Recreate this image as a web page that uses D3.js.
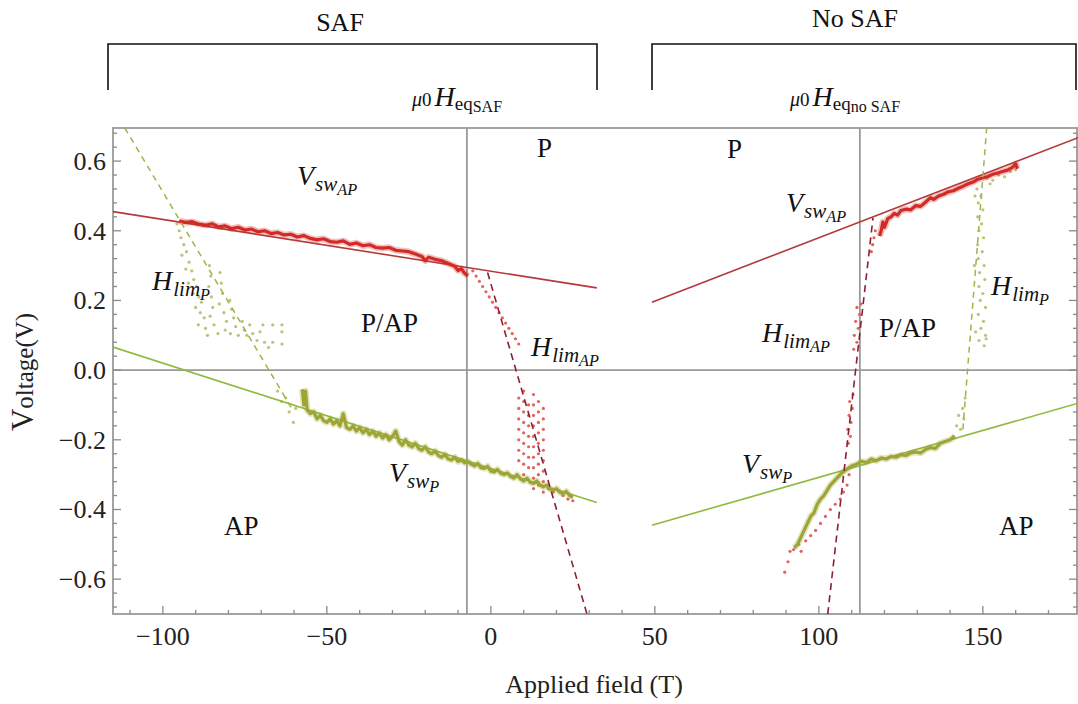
<!DOCTYPE html>
<html><head><meta charset="utf-8">
<script src="https://cdn.jsdelivr.net/npm/d3@7"></script>
<style>
html,body{margin:0;padding:0;background:#fff;}
svg{display:block;}
svg text{font-family:"Liberation Serif","DejaVu Serif",serif;}
</style></head><body>
<svg id="c" width="1078" height="704"></svg>
<script>
// ---------- tick labels ----------
const xTickValues = [-100, -50, 0, 50, 100, 150];
const xTickLabels = ["\u2212100", "\u221250", "0", "50", "100", "150"];
const yTickValues = [-0.6, -0.4, -0.2, 0.0, 0.2, 0.4, 0.6];
const yTickLabels = ["\u22120.6", "\u22120.4", "\u22120.2", "0.0", "0.2", "0.4", "0.6"];

// ---------- equilibrium field lines (T) ----------
const eqFields = [-7.3, 112.5];

// ---------- SAF panel: fits [H, V] ----------
const safRedFit = [[-115.2, 0.455], [32.3, 0.236]];
const safGreenFit = [[-115.2, 0.066], [32.3, -0.380]];
const safRedDash = [[-1.0, 0.280], [29.3, -0.700]];
const safGreenDash = [[-111.6, 0.695], [-60.7, -0.110]];

// ---------- No SAF panel: fits [H, V] ----------
const noSafRedFit = [[49.1, 0.195], [179, 0.667]];
const noSafGreenFit = [[49.1, -0.445], [179, -0.095]];
const noSafRedDash = [[102.7, -0.700], [116.5, 0.437]];
const noSafGreenDash = [[143.9, -0.170], [151.2, 0.700]];

// ---------- SAF panel: measured curves ----------
const safRedData = [
 [-95,0.428],[-93,0.424],[-91,0.426],[-89,0.419],[-87,0.416],[-85,0.420],[-83,0.411],[-81,0.414],
 [-79,0.406],[-77,0.410],[-75,0.402],[-73,0.405],[-71,0.397],[-69,0.400],[-67,0.392],[-65,0.395],
 [-63,0.388],[-61,0.390],[-59,0.382],[-57,0.386],[-55,0.378],[-53,0.374],[-51,0.377],[-49,0.369],
 [-47,0.367],[-45,0.371],[-43,0.361],[-41,0.365],[-39,0.357],[-37,0.360],[-35,0.352],[-33,0.350],
 [-31,0.352],[-29,0.344],[-27,0.342],[-25,0.340],[-23,0.333],[-21,0.326],[-20,0.314],[-19,0.324],
 [-17,0.318],[-15,0.314],[-13,0.306],[-11,0.298],[-10,0.286],[-9,0.291],[-8,0.278],[-7,0.270]
];
const safGreenData = [
 [-57.5,-0.055],[-57,-0.100],[-56.5,-0.060],[-56,-0.115],[-55,-0.125],[-54,-0.120],[-53,-0.140],
 [-52,-0.130],[-51,-0.145],[-50,-0.150],[-49,-0.140],[-48,-0.155],[-47,-0.145],[-46,-0.160],
 [-45,-0.125],[-44,-0.165],[-43,-0.170],[-42,-0.160],[-41,-0.175],[-40,-0.165],[-39,-0.180],
 [-38,-0.170],[-37,-0.185],[-36,-0.175],[-35,-0.190],[-34,-0.180],[-33,-0.195],[-32,-0.185],
 [-31,-0.200],[-30,-0.190],[-29,-0.175],[-28,-0.205],[-27,-0.215],[-26,-0.200],[-25,-0.215],
 [-24,-0.220],[-23,-0.210],[-22,-0.225],[-21,-0.230],[-20,-0.220],[-19,-0.235],[-18,-0.240],
 [-17,-0.232],[-16,-0.245],[-15,-0.250],[-14,-0.242],[-13,-0.255],[-12,-0.258],[-11,-0.250],
 [-10,-0.262],[-9,-0.258],[-8,-0.266],[-7,-0.262],[-6,-0.270],[-5,-0.275],[-4,-0.268],[-3,-0.280],
 [-2,-0.282],[-1,-0.276],[0,-0.290],[1,-0.292],[2,-0.285],[3,-0.296],[4,-0.300],[5,-0.295],
 [6,-0.305],[7,-0.310],[8,-0.300],[9,-0.312],[10,-0.318],[11,-0.310],[12,-0.322],[13,-0.325],
 [14,-0.318],[15,-0.330],[16,-0.335],[17,-0.330],[18,-0.342],[19,-0.345],[20,-0.340],[21,-0.350],
 [22,-0.355],[23,-0.348],[24,-0.360],[25,-0.365]
];
const safRedDots = [
 [-5.5,0.285],[-4.5,0.270],[-3.5,0.255],[-2.5,0.240],[-1.5,0.225],[-0.5,0.210],[0.5,0.195],
 [1.5,0.180],[2.5,0.165],[3.5,0.150],[4.5,0.135],[5.5,0.120],[6.5,0.105],[7.5,0.090],[8.5,0.075],
 [8.5,-0.08],[8.5,-0.11],[8.5,-0.14],[8.5,-0.17],[8.5,-0.20],[8.5,-0.23],[8.5,-0.26],
 [10,-0.06],[10,-0.09],[10,-0.12],[10,-0.15],[10,-0.18],[10,-0.21],[10,-0.24],[10,-0.27],[10,-0.30],
 [11.5,-0.10],[11.5,-0.13],[11.5,-0.16],[11.5,-0.19],[11.5,-0.22],[11.5,-0.25],[11.5,-0.28],
 [13,-0.07],[13,-0.10],[13,-0.13],[13,-0.16],[13,-0.19],[13,-0.22],[13,-0.25],[13,-0.28],[13,-0.31],[13,-0.34],
 [14.5,-0.09],[14.5,-0.12],[14.5,-0.15],[14.5,-0.18],[14.5,-0.21],[14.5,-0.24],[14.5,-0.27],[14.5,-0.30],[14.5,-0.33],
 [16,-0.11],[16,-0.14],[16,-0.17],[16,-0.20],[16,-0.23],[16,-0.26],[16,-0.29],[16,-0.32],[16,-0.35],
 [17.5,-0.340],[19,-0.350],[20.5,-0.345],[22,-0.360],[23.5,-0.370],[25,-0.375]
];
const safGreenDots = [
 [-95.7,0.42],[-95.0,0.40],[-94.5,0.38],[-93.6,0.36],[-94.2,0.33],[-92.8,0.34],[-92.0,0.31],
 [-93.0,0.29],[-91.2,0.285],[-90.6,0.26],[-92.2,0.25],[-89.8,0.24],[-90.8,0.22],[-89.0,0.21],
 [-88.2,0.195],[-90.0,0.18],[-88.6,0.165],[-87.4,0.15],[-89.2,0.13],[-87.0,0.12],[-85.8,0.30],
 [-85.4,0.27],[-86.0,0.24],[-85.2,0.21],[-84.8,0.18],[-85.6,0.155],[-84.4,0.13],[-83.2,0.105],
 [-86.4,0.10],[-82.6,0.28],[-82.2,0.25],[-81.8,0.22],[-82.8,0.19],[-81.4,0.165],[-80.6,0.14],
 [-81.0,0.115],[-79.6,0.20],[-79.0,0.175],[-78.4,0.15],[-77.8,0.125],[-79.4,0.105],[-77.0,0.10],
 [-75.8,0.14],[-75.2,0.115],[-74.4,0.10],[-73.5,0.13],[-72.6,0.105],[-71.3,0.085],[-70.4,0.11],
 [-69.5,0.13],[-69.0,0.08],[-66.5,0.13],[-66.5,0.08],[-63.7,0.13],[-63.7,0.11],[-63.7,0.075],
 [-67.8,0.065],[-65.0,-0.06],[-63.8,-0.09],[-62.5,-0.08],[-61.5,-0.12],[-60.2,-0.15],[-59.5,-0.11]
];

// ---------- No SAF panel: measured curves ----------
const noSafRedData = [
 [118.5,0.385],[119,0.400],[119.5,0.425],[120,0.410],[121,0.435],[122,0.440],[123,0.450],
 [124,0.445],[125,0.458],[126.5,0.462],[128,0.460],[129.5,0.472],[131,0.470],[132.5,0.482],
 [134,0.495],[135,0.490],[136.5,0.500],[138,0.505],[139.5,0.512],[141,0.515],[142.5,0.522],
 [144,0.528],[145.5,0.535],[147,0.540],[148.5,0.548],[150,0.552],[151.5,0.556],[153,0.562],
 [154.5,0.566],[156,0.570],[157.5,0.574],[159,0.582],[160,0.592],[160.5,0.578]
];
const noSafGreenData = [
 [92.5,-0.510],[93.5,-0.500],[94.5,-0.480],[95.5,-0.460],[96.5,-0.440],[97.5,-0.420],[98.5,-0.410],
 [99.5,-0.385],[100.5,-0.370],[101.5,-0.360],[102.5,-0.345],[103.5,-0.330],[104.5,-0.320],
 [105.5,-0.310],[107,-0.295],[108.5,-0.285],[110,-0.275],[111.5,-0.270],[113,-0.262],[114.5,-0.265],
 [116,-0.255],[117.5,-0.260],[119,-0.252],[120.5,-0.255],[122,-0.248],[123.5,-0.250],[125,-0.243],
 [126.5,-0.245],[128,-0.238],[129.5,-0.235],[131,-0.238],[132.5,-0.228],[134,-0.222],[135.5,-0.225],
 [137,-0.210],[138.5,-0.205],[140,-0.200],[141.5,-0.190]
];
const noSafRedDots = [
 [89.6,-0.58],[90.6,-0.55],[91.2,-0.52],[92.3,-0.515],[93.8,-0.50],[94.6,-0.52],[96.0,-0.49],
 [97.5,-0.475],[99.0,-0.46],[100.5,-0.44],[102.0,-0.42],[103.5,-0.40],[105.0,-0.385],[106.5,-0.37],
 [107.5,-0.35],[108.6,-0.33],[109.2,-0.30],[109.0,-0.21],[109.6,-0.19],[108.8,-0.17],[109.8,-0.15],
 [109.2,-0.13],[110.2,-0.11],[109.4,-0.09],[110.4,-0.07],[110.6,0.06],[111.6,0.08],[110.8,0.10],
 [112.0,0.12],[111.2,0.14],[112.4,0.16],[111.6,0.18],[112.8,0.19],[116.0,0.34],[116.4,0.36],
 [116.8,0.38],[117.2,0.40]
];
const noSafGreenDots = [
 [148.2,0.52],[149.4,0.50],[148.6,0.48],[150.0,0.46],[148.4,0.44],[149.6,0.42],[148.8,0.40],
 [150.2,0.38],[148.4,0.36],[149.8,0.34],[148.6,0.32],[150.4,0.30],[149.0,0.28],[150.6,0.26],
 [148.8,0.24],[150.0,0.22],[149.2,0.20],[150.8,0.18],[148.6,0.16],[150.2,0.14],[149.4,0.12],
 [150.8,0.10],[148.8,0.085],[150.4,0.07],[151.0,0.09],[147.8,0.11],[151.2,0.55],[153.0,0.545],
 [154.8,0.56],[156.6,0.555],[158.4,0.57],[160.0,0.575],[152.2,0.535],[147.6,0.50],[147.4,0.30],
 [141.0,-0.19],[142.0,-0.16],[143.2,-0.17],[142.6,-0.13],[144.2,-0.14],[143.8,-0.11],[144.6,-0.08]
];

// ---------- colours ----------
const C = {
  redData: "#d22a26", redFit: "#b53a3c", redDash: "#8e1f2e", redDots: "#e2625c",
  greenData: "#9ea535", greenFit: "#8fba3c", greenDash: "#9db547", greenDots: "#bcc27a",
  frame: "#9a9a9a"
};

const svg = d3.select("#c");
const x = d3.scaleLinear().domain([-115.2, 179]).range([113, 1078]);
const y = d3.scaleLinear().domain([-0.7, 0.695]).range([614, 128]);
const X0 = x.range()[0], X1 = x.range()[1], Y0 = y.range()[1], Y1 = y.range()[0];

svg.append("defs").append("clipPath").attr("id", "plotclip")
  .append("rect").attr("x", X0).attr("y", Y0).attr("width", X1 - X0).attr("height", Y1 - Y0);

const serif = "Liberation Serif, DejaVu Serif, serif";
function txt(sel) { return sel.attr("font-family", serif).style("font-family", serif); }

// ---------- top brackets ----------
const brackets = svg.append("g").attr("stroke", "#111").attr("stroke-width", 1.6).attr("fill", "none");
brackets.append("path").attr("d", "M108,90V44H597V90");
brackets.append("path").attr("d", "M652,90V44H1076V90");
txt(svg.append("text")).attr("x", 340).attr("y", 31).attr("text-anchor", "middle")
  .style("font-size", "26px").attr("fill", "#111").text("SAF");
txt(svg.append("text")).attr("x", 855).attr("y", 27).attr("text-anchor", "middle")
  .style("font-size", "26px").attr("fill", "#111").text("No SAF");

// ---------- frame & reference lines ----------
const ref = svg.append("g").attr("stroke", C.frame).attr("stroke-width", 1.8);
ref.append("line").attr("x1", X0).attr("x2", X1).attr("y1", y(0)).attr("y2", y(0));
eqFields.forEach(h => ref.append("line").attr("x1", x(h)).attr("x2", x(h)).attr("y1", Y0).attr("y2", Y1));
svg.append("rect").attr("x", X0).attr("y", Y0).attr("width", X1 - X0 - 1).attr("height", Y1 - Y0)
  .attr("fill", "none").attr("stroke", C.frame).attr("stroke-width", 1.8);

// ---------- ticks ----------
const tk = svg.append("g").attr("stroke", "#8a8a8a").attr("stroke-width", 1.3);
d3.range(-110, 180, 10).forEach(v => {
  const major = v % 50 === 0;
  tk.append("line").attr("x1", x(v)).attr("x2", x(v)).attr("y1", Y1).attr("y2", Y1 - (major ? 8 : 4));
});
d3.range(-0.68, 0.69, 0.04).map(v => Math.round(v * 100) / 100).forEach(v => {
  const major = Math.abs(Math.round(v * 100) % 20) === 0;
  const L = major ? 8 : 4;
  tk.append("line").attr("x1", X0).attr("x2", X0 + L).attr("y1", y(v)).attr("y2", y(v));
  tk.append("line").attr("x1", X1 - 1).attr("x2", X1 - 1 - L).attr("y1", y(v)).attr("y2", y(v));
});

// tick labels
xTickValues.forEach((v, i) => {
  txt(svg.append("text")).attr("x", x(v)).attr("y", 645).attr("text-anchor", "middle")
    .style("font-size", "26px").attr("fill", "#222").text(xTickLabels[i]);
});
yTickValues.forEach((v, i) => {
  txt(svg.append("text")).attr("x", 106).attr("y", y(v) + 9).attr("text-anchor", "end")
    .style("font-size", "26px").attr("fill", "#222").text(yTickLabels[i]);
});

// axis titles
const yt = txt(svg.append("text")).attr("transform", "translate(33,372) rotate(-90)").attr("text-anchor", "middle")
  .attr("fill", "#222");
yt.append("tspan").style("font-size", "31px").text("V");
yt.append("tspan").style("font-size", "25px").text("oltage(V)");
txt(svg.append("text")).attr("x", 594).attr("y", 693).attr("text-anchor", "middle")
  .style("font-size", "26px").attr("fill", "#222").text("Applied field (T)");

// ---------- marks ----------
const plot = svg.append("g").attr("clip-path", "url(#plotclip)");
const line = d3.line().x(d => x(d[0])).y(d => y(d[1]));

function drawLine(data, color, width, dash) {
  const p = plot.append("path").datum(data).attr("d", line).attr("fill", "none")
    .attr("stroke", color).attr("stroke-width", width);
  if (dash) p.attr("stroke-dasharray", dash);
  return p;
}
function drawData(data, color) {
  plot.append("path").datum(data).attr("d", line).attr("fill", "none").attr("stroke", color)
    .attr("stroke-width", 6.5).attr("stroke-opacity", 0.3).attr("stroke-linejoin", "round");
  plot.append("path").datum(data).attr("d", line).attr("fill", "none").attr("stroke", color)
    .attr("stroke-width", 3.2).attr("stroke-linejoin", "round");
}
function drawDots(data, color) {
  plot.append("g").selectAll("circle").data(data).join("circle")
    .attr("cx", d => x(d[0])).attr("cy", d => y(d[1])).attr("r", 1.6).attr("fill", color);
}

drawDots(safGreenDots, C.greenDots);
drawDots(noSafGreenDots, C.greenDots);
drawDots(safRedDots, C.redDots);
drawDots(noSafRedDots, C.redDots);

drawLine(safRedFit, C.redFit, 1.6);
drawLine(safGreenFit, C.greenFit, 1.6);
drawLine(noSafRedFit, C.redFit, 1.6);
drawLine(noSafGreenFit, C.greenFit, 1.6);

drawData(safRedData, C.redData);
drawData(safGreenData, C.greenData);
drawData(noSafRedData, C.redData);
drawData(noSafGreenData, C.greenData);

drawLine(safRedDash, C.redDash, 1.6, "7,5");
drawLine(noSafRedDash, C.redDash, 1.6, "7,5");
drawLine(safGreenDash, C.greenDash, 1.5, "6,5");
drawLine(noSafGreenDash, C.greenDash, 1.5, "6,5");

// ---------- annotations ----------
function plain(px, py, s, size) {
  txt(svg.append("text")).attr("x", px).attr("y", py)
    .style("font-size", size + "px").attr("fill", "#111").text(s);
}
function mathLabel(px, py, main, sub, subsub, size) {
  const t = txt(svg.append("text")).attr("x", px).attr("y", py)
    .style("font-style", "italic").attr("fill", "#111");
  t.append("tspan").style("font-size", size + "px").text(main);
  t.append("tspan").style("font-size", (size * 0.75) + "px").attr("dx", 1).attr("dy", size * 0.22).text(sub);
  t.append("tspan").style("font-size", (size * 0.58) + "px").attr("dy", size * 0.14).text(subsub);
}
function eqLabel(px, py, sub, subsub) {
  const t = txt(svg.append("text")).attr("x", px).attr("y", py).attr("fill", "#111");
  t.append("tspan").style("font-size", "20px").style("font-style", "italic").text("\u03bc");
  t.append("tspan").style("font-size", "19px").text("0");
  t.append("tspan").style("font-size", "28px").style("font-style", "italic").attr("dx", 3).text("H");
  t.append("tspan").style("font-size", "19px").attr("dy", 4).text(sub);
  t.append("tspan").style("font-size", "16px").attr("dy", 2).text(subsub);
}

eqLabel(412, 106, "eq", "SAF");
eqLabel(790, 106, "eq", "no SAF");

plain(537, 157, "P", 27);
plain(727, 158, "P", 27);
plain(361, 332, "P/AP", 27);
plain(879, 337, "P/AP", 27);
plain(224, 535, "AP", 27);
plain(999, 535, "AP", 27);

mathLabel(297, 185, "V", "sw", "AP", 28);
mathLabel(786, 212, "V", "sw", "AP", 28);
mathLabel(152, 290, "H", "lim", "P", 28);
mathLabel(991, 295, "H", "lim", "P", 28);
mathLabel(531, 356, "H", "lim", "AP", 28);
mathLabel(762, 342, "H", "lim", "AP", 28);
mathLabel(389, 482, "V", "sw", "P", 28);
mathLabel(742, 473, "V", "sw", "P", 28);
</script>
</body></html>
